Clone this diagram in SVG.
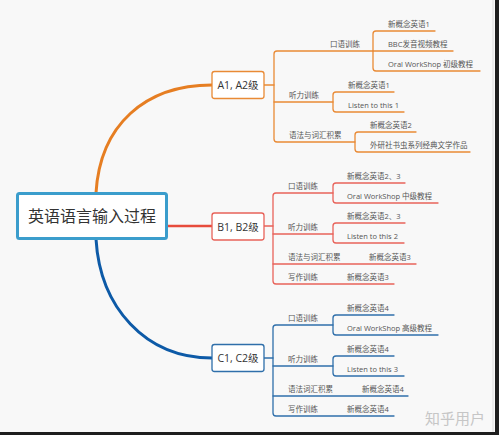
<svg xmlns="http://www.w3.org/2000/svg" width="499" height="435" viewBox="0 0 499 435">
<style>
text{font-family:"Open Sans","Noto Sans CJK SC",sans-serif;}
.s{font-size:7.5px;fill:#555;}
.box{fill:#fff;stroke-width:1.3;}
.bt{font-size:10.5px;fill:#333;text-anchor:middle;}
.c{fill:none;stroke-linecap:round;stroke-linejoin:round;}
.o{stroke:#e98a35;stroke-width:1.3;}
.r{stroke:#e8635a;stroke-width:1.3;}
.b{stroke:#2f6faa;stroke-width:1.3;}
</style>
<rect x="0" y="0" width="499" height="435" fill="#f8f8f8"/>
<g id="connectors" class="c">
<path d="M96 193 C100 125 145 85 212 85" stroke="#e67e22" stroke-width="3"/>
<path d="M96 239 C100 307 145 358 212 358" stroke="#0d5aa7" stroke-width="3"/>
<path d="M167 226 H212" stroke="#e74c3c" stroke-width="2.5"/>
<g class="o">
<path d="M264 85 H274"/>
<path d="M373 51 H277 Q274 51 274 54 V139 Q274 142 277 142 H355"/>
<path d="M274 102 H333"/>
<path d="M435 31 H376 Q373 31 373 34 V68 Q373 71 376 71 H480"/>
<path d="M373 51 H453"/>
<path d="M394 92 H336 Q333 92 333 95 V109 Q333 112 336 112 H404"/>
<path d="M416 132 H358 Q355 132 355 135 V149 Q355 152 358 152 H470"/>
</g>
<g class="r">
<path d="M264 226 H273"/>
<path d="M333 193 H276 Q273 193 273 196 V281 Q273 284 276 284 H394"/>
<path d="M273 234 H333"/>
<path d="M273 264 H416"/>
<path d="M405 183 H336 Q333 183 333 186 V200 Q333 203 336 203 H438"/>
<path d="M405 223 H336 Q333 223 333 226 V240 Q333 243 336 243 H404"/>
</g>
<g class="b">
<path d="M264 358 H273"/>
<path d="M333 325 H276 Q273 325 273 328 V413 Q273 416 276 416 H394"/>
<path d="M273 366 H333"/>
<path d="M273 396 H408"/>
<path d="M394 315 H336 Q333 315 333 318 V332 Q333 335 336 335 H438"/>
<path d="M394 356 H336 Q333 356 333 359 V373 Q333 376 336 376 H404"/>
</g>
</g>
<g id="root">
<rect x="17.5" y="193.5" width="149" height="45" rx="2" fill="#fff" stroke="#3b9dcc" stroke-width="3"/>
<text x="92" y="222" font-size="16" fill="#333" text-anchor="middle">英语语言输入过程</text>
</g>
<g id="a-level">
<rect class="box" x="212" y="71.5" width="52" height="27" rx="2.5" stroke="#e98a35"/>
<text class="bt" x="238" y="89">A1, A2级</text>
</g>
<g id="b-level">
<rect class="box" x="212" y="213" width="52" height="27" rx="2.5" stroke="#e8635a"/>
<text class="bt" x="238" y="230.5">B1, B2级</text>
</g>
<g id="c-level">
<rect class="box" x="212" y="344.5" width="52" height="27" rx="2.5" stroke="#2f6faa"/>
<text class="bt" x="238" y="362">C1, C2级</text>
</g>
<g id="a-oral"><text class="s" x="330" y="47">口语训练</text></g>
<g id="a-oral-1"><text class="s" x="388" y="27">新概念英语1</text></g>
<g id="a-oral-2"><text class="s" x="388" y="47">BBC发音视频教程</text></g>
<g id="a-oral-3"><text class="s" x="388" y="67">Oral WorkShop 初级教程</text></g>
<g id="a-listen"><text class="s" x="289" y="98">听力训练</text></g>
<g id="a-listen-1"><text class="s" x="348" y="88">新概念英语1</text></g>
<g id="a-listen-2"><text class="s" x="348" y="108">Listen to this 1</text></g>
<g id="a-grammar"><text class="s" x="289" y="138">语法与词汇积累</text></g>
<g id="a-grammar-1"><text class="s" x="370" y="128">新概念英语2</text></g>
<g id="a-grammar-2"><text class="s" x="370" y="148">外研社书虫系列经典文学作品</text></g>
<g id="b-oral"><text class="s" x="288" y="189">口语训练</text></g>
<g id="b-oral-1"><text class="s" x="347" y="179">新概念英语2、3</text></g>
<g id="b-oral-2"><text class="s" x="347" y="199">Oral WorkShop 中级教程</text></g>
<g id="b-listen"><text class="s" x="288" y="230">听力训练</text></g>
<g id="b-listen-1"><text class="s" x="347" y="219">新概念英语2、3</text></g>
<g id="b-listen-2"><text class="s" x="347" y="239">Listen to this 2</text></g>
<g id="b-grammar"><text class="s" x="288" y="260">语法与词汇积累</text></g>
<g id="b-grammar-1"><text class="s" x="369" y="260">新概念英语3</text></g>
<g id="b-writing"><text class="s" x="288" y="280">写作训练</text></g>
<g id="b-writing-1"><text class="s" x="347" y="280">新概念英语3</text></g>
<g id="c-oral"><text class="s" x="288" y="321">口语训练</text></g>
<g id="c-oral-1"><text class="s" x="347" y="311">新概念英语4</text></g>
<g id="c-oral-2"><text class="s" x="347" y="331">Oral WorkShop 高级教程</text></g>
<g id="c-listen"><text class="s" x="288" y="362">听力训练</text></g>
<g id="c-listen-1"><text class="s" x="347" y="352">新概念英语4</text></g>
<g id="c-listen-2"><text class="s" x="347" y="372">Listen to this 3</text></g>
<g id="c-grammar"><text class="s" x="288" y="392">语法词汇积累</text></g>
<g id="c-grammar-1"><text class="s" x="362" y="392">新概念英语4</text></g>
<g id="c-writing"><text class="s" x="288" y="412">写作训练</text></g>
<g id="c-writing-1"><text class="s" x="347" y="412">新概念英语4</text></g>
<text x="425" y="424" font-size="15" fill="#c6c6c6">知乎用户</text>
<rect x="492.5" y="0" width="1" height="432" fill="#dcdcdc"/>
<rect x="495" y="0" width="4" height="435" fill="#1e1e1e"/>
<rect x="0" y="432" width="499" height="3" fill="#1e1e1e"/>
</svg>
